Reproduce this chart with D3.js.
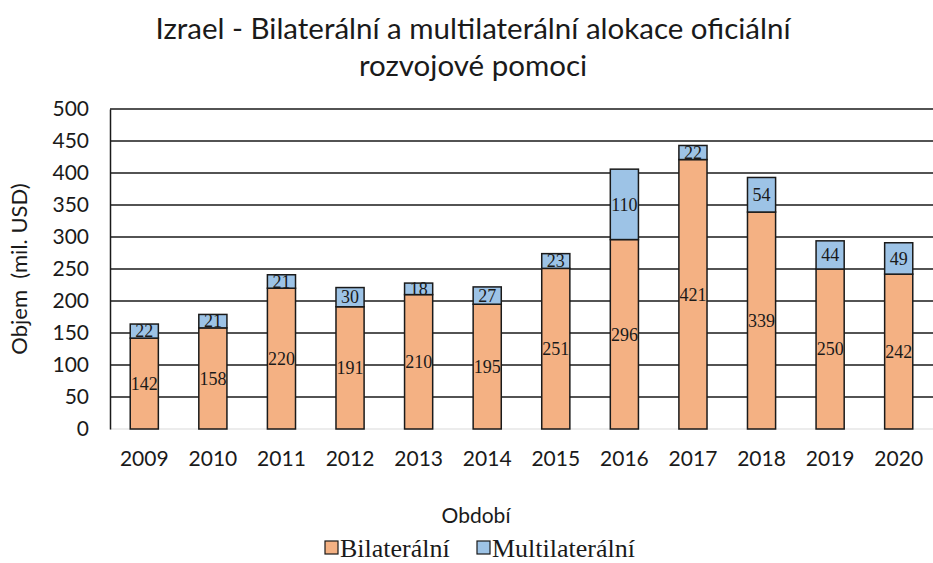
<!DOCTYPE html>
<html>
<head>
<meta charset="utf-8">
<script src="https://cdn.jsdelivr.net/npm/d3@7"></script>
<style>
  body { margin: 0; background: #fff; }
  svg { display: block; }
</style>
</head>
<body>
<div id="chart"></div>
<script>
// data
const years = ["2009", "2010", "2011", "2012", "2013", "2014", "2015", "2016", "2017", "2018", "2019", "2020"];
const bilateral = [142, 158, 220, 191, 210, 195, 251, 296, 421, 339, 250, 242];
const multilateral = [22, 21, 21, 30, 18, 27, 23, 110, 22, 54, 44, 49];
const yTicks = [0, 50, 100, 150, 200, 250, 300, 350, 400, 450, 500];
const seriesNames = ["Bilaterální", "Multilaterální"];
const seriesColors = ["#F4B183", "#9DC3E6"];

var width = 933, height = 563;
var margin = { top: 109, right: 0, bottom: 134, left: 110 };
var innerW = width - margin.left - margin.right,
    innerH = height - margin.top - margin.bottom;

var svg = d3.select("#chart").append("svg")
    .attr("width", width)
    .attr("height", height);

var sans = "Lato, 'Open Sans', sans-serif";
var serif = "'Liberation Serif', 'DejaVu Serif', serif";

// title
svg.append("text")
    .attr("x", 473).attr("y", 39)
    .attr("text-anchor", "middle")
    .style("font-family", sans).style("font-size", "29.5px").style("fill", "#1a1a1a")
    .text("Izrael - Bilaterální a multilaterální alokace oficiální");
svg.append("text")
    .attr("x", 473).attr("y", 76)
    .attr("text-anchor", "middle")
    .style("font-family", sans).style("font-size", "29.5px").style("fill", "#1a1a1a")
    .text("rozvojové pomoci");

var g = svg.append("g").attr("transform", "translate(" + margin.left + "," + margin.top + ")");

var x = d3.scaleBand().domain(years).range([0, innerW]).paddingInner(0.59).paddingOuter(0.295);
var y = d3.scaleLinear().domain([0, 500]).range([innerH, 0]);

// gridlines
g.selectAll(".grid")
    .data(yTicks.filter(d => d > 0))
    .enter().append("line")
    .attr("x1", 0).attr("x2", innerW)
    .attr("y1", d => y(d)).attr("y2", d => y(d))
    .attr("stroke", "#1a1a1a").attr("stroke-width", 1.5);

// baseline
g.append("line")
    .attr("x1", 0).attr("x2", innerW)
    .attr("y1", y(0)).attr("y2", y(0))
    .attr("stroke", "#d9d9d9").attr("stroke-width", 1);

// y axis
var yAxis = g.append("g")
    .call(d3.axisLeft(y).tickValues(yTicks).tickSize(0).tickPadding(21));
yAxis.select(".domain").attr("stroke", "#1a1a1a").attr("stroke-width", 1.5);
yAxis.selectAll("text")
    .style("font-family", sans).style("font-size", "21px").style("fill", "#1a1a1a");

// x axis
var xAxis = g.append("g")
    .attr("transform", "translate(0," + innerH + ")")
    .call(d3.axisBottom(x).tickSize(0).tickPadding(22));
xAxis.select(".domain").remove();
xAxis.selectAll("text")
    .style("font-family", sans).style("font-size", "21px").style("fill", "#1a1a1a");

// stacked bars
var rows = years.map((yr, i) => ({ year: yr, b: bilateral[i], m: multilateral[i] }));

var bars = g.selectAll(".bar").data(rows).enter().append("g").attr("class", "bar");

bars.append("rect")
    .attr("x", d => x(d.year))
    .attr("width", x.bandwidth())
    .attr("y", d => y(d.b))
    .attr("height", d => y(0) - y(d.b))
    .attr("fill", seriesColors[0])
    .attr("stroke", "#1a1a1a").attr("stroke-width", 1.5);

bars.append("rect")
    .attr("x", d => x(d.year))
    .attr("width", x.bandwidth())
    .attr("y", d => y(d.b + d.m))
    .attr("height", d => y(d.b) - y(d.b + d.m))
    .attr("fill", seriesColors[1])
    .attr("stroke", "#1a1a1a").attr("stroke-width", 1.5);

// value labels
bars.append("text")
    .attr("x", d => x(d.year) + x.bandwidth() / 2)
    .attr("y", d => y(d.b / 2))
    .attr("dy", "0.35em")
    .attr("text-anchor", "middle")
    .style("font-family", serif).style("font-size", "18px").style("fill", "#1a1a1a")
    .text(d => d.b);

bars.append("text")
    .attr("x", d => x(d.year) + x.bandwidth() / 2)
    .attr("y", d => y(d.b + d.m / 2))
    .attr("dy", "0.35em")
    .attr("text-anchor", "middle")
    .style("font-family", serif).style("font-size", "18px").style("fill", "#1a1a1a")
    .text(d => d.m);

// axis titles
svg.append("text")
    .attr("transform", "translate(27," + (margin.top + innerH / 2) + ") rotate(-90)")
    .attr("text-anchor", "middle")
    .style("font-family", sans).style("font-size", "22px").style("fill", "#1a1a1a")
    .style("white-space", "pre")
    .text("Objem  (mil. USD)");

svg.append("text")
    .attr("x", 476).attr("y", 523)
    .attr("text-anchor", "middle")
    .style("font-family", sans).style("font-size", "21px").style("fill", "#1a1a1a")
    .text("Období");

// legend
var legend = svg.append("g").attr("transform", "translate(325,557)");
var legendX = [0, 152];
seriesNames.forEach(function (name, i) {
    var lg = legend.append("g").attr("transform", "translate(" + legendX[i] + ",0)");
    lg.append("rect")
        .attr("x", 0).attr("y", -16)
        .attr("width", 13).attr("height", 13)
        .attr("fill", seriesColors[i])
        .attr("stroke", "#1a1a1a").attr("stroke-width", 1.2);
    lg.append("text")
        .attr("x", 15).attr("y", 0)
        .style("font-family", serif).style("font-size", "26px").style("fill", "#1a1a1a")
        .text(name);
});
</script>
</body>
</html>
